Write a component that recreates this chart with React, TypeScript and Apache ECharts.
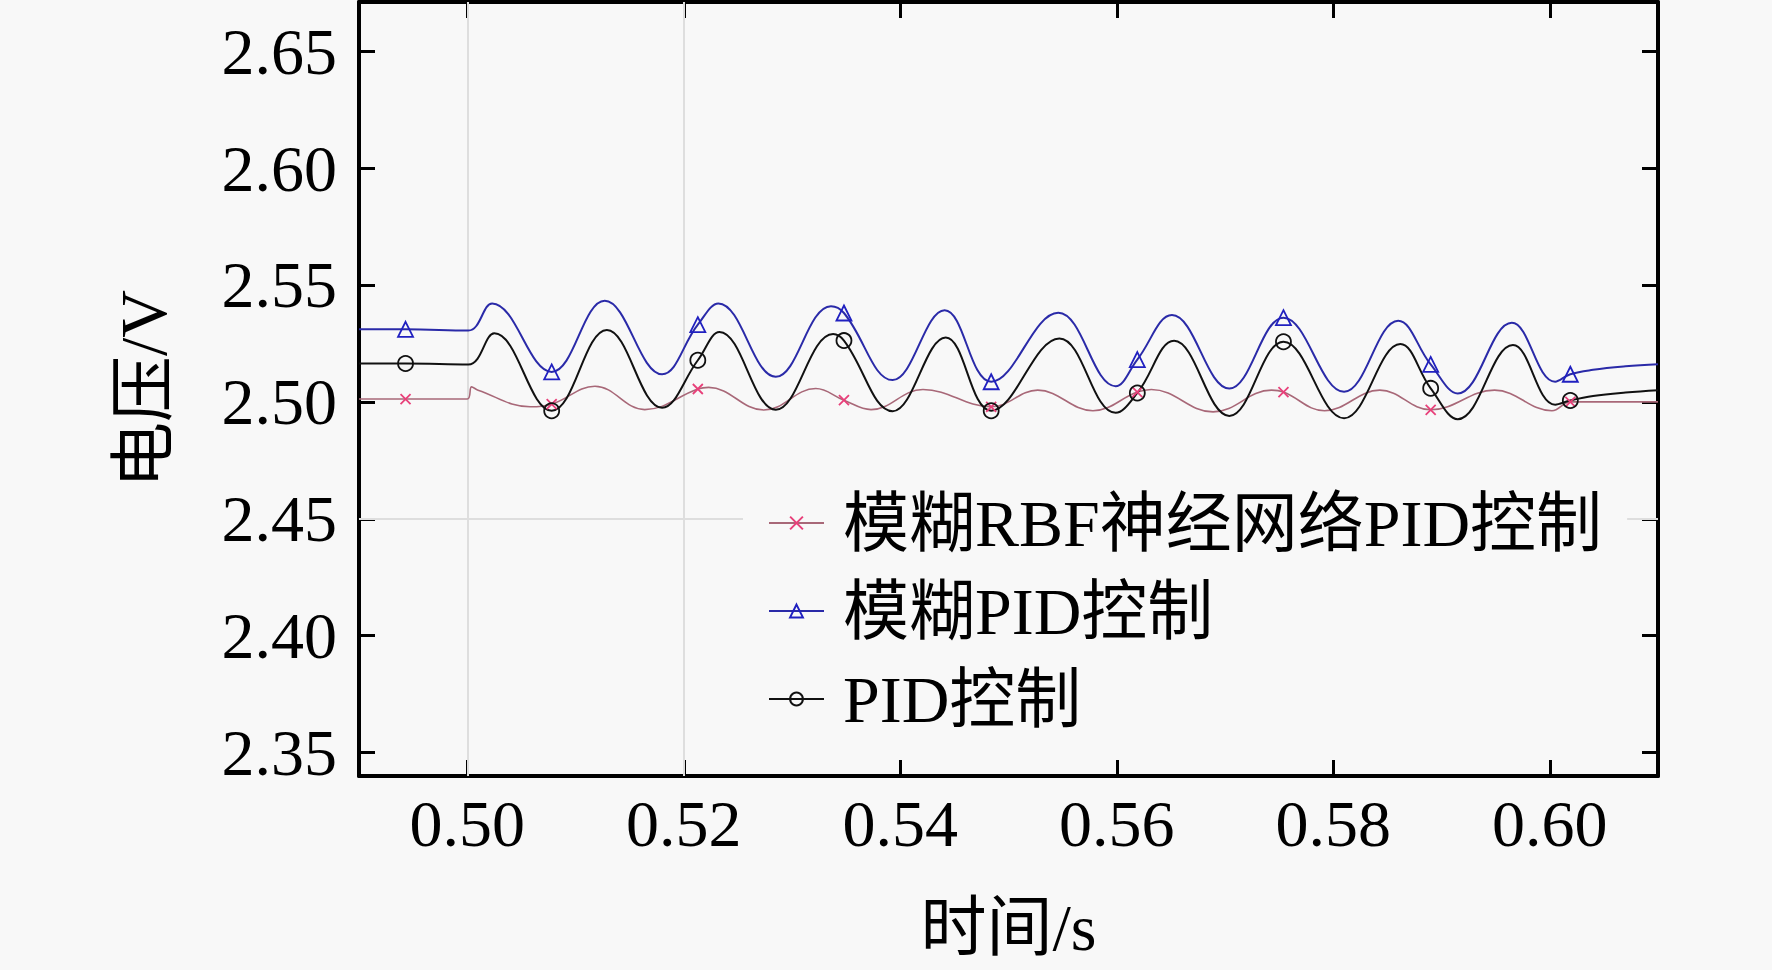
import React, { useEffect, useRef } from "react";
import * as echarts from "echarts";

const seriesNames = ["模糊RBF神经网络PID控制", "模糊PID控制", "PID控制"];
const xAxisName = "时间/s";
const yAxisName = "电压/V";

// time positions where markers are drawn (shared by all series)
const markerTimes = [0.4943, 0.5078, 0.5213, 0.5348, 0.5484, 0.5619, 0.5754, 0.589, 0.6019];

// 模糊RBF神经网络PID控制
const rbfTimes = [
  0.49, 0.4943, 0.5, 0.5004, 0.501, 0.5058, 0.5078, 0.5118, 0.5164, 0.5213, 0.5223, 0.5274,
  0.5322, 0.5348, 0.5373, 0.5421, 0.5484, 0.5527, 0.5578, 0.5619, 0.5632, 0.5689, 0.5743,
  0.5754, 0.5792, 0.5843, 0.589, 0.5949, 0.6002, 0.6019, 0.605, 0.61,
];
const rbfValues = [
  2.5012, 2.5012, 2.5012, 2.5064, 2.505, 2.4979, 2.499, 2.5067, 2.4967, 2.5055, 2.5062, 2.4965,
  2.5057, 2.5007, 2.4967, 2.5053, 2.4979, 2.505, 2.4962, 2.5042, 2.5053, 2.4957, 2.505,
  2.5042, 2.4962, 2.505, 2.4966, 2.505, 2.4962, 2.5, 2.5, 2.5,
];

// 模糊PID控制
const fuzzyTimes = [
  0.49, 0.4943, 0.5001, 0.5023, 0.5078, 0.5127, 0.518, 0.5213, 0.5232, 0.5285, 0.5336, 0.5348,
  0.5393, 0.5441, 0.5484, 0.5546, 0.5599, 0.5619, 0.5651, 0.5704, 0.5754, 0.581, 0.586, 0.589,
  0.5915, 0.5965, 0.6005, 0.6019, 0.604, 0.607, 0.61,
];
const fuzzyValues = [
  2.531, 2.531, 2.5305, 2.5421, 2.5128, 2.5432, 2.5118, 2.533, 2.5421, 2.5107, 2.5409, 2.538,
  2.5093, 2.5392, 2.5086, 2.5381, 2.5067, 2.5181, 2.5371, 2.5057, 2.536, 2.5043, 2.5347, 2.516,
  2.5036, 2.5338, 2.5086, 2.5118, 2.5137, 2.5152, 2.5161,
];

// PID控制
const pidTimes = [
  0.49, 0.4943, 0.5001, 0.5025, 0.5078, 0.5129, 0.518, 0.5213, 0.5233, 0.5285, 0.5338, 0.5348,
  0.5393, 0.5442, 0.5484, 0.5547, 0.5599, 0.5619, 0.5653, 0.5704, 0.5754, 0.581, 0.5862, 0.589,
  0.5915, 0.5966, 0.6005, 0.6019, 0.604, 0.607, 0.61,
];
const pidValues = [
  2.5164, 2.5164, 2.516, 2.5293, 2.4962, 2.5307, 2.4975, 2.5178, 2.5299, 2.4966, 2.529, 2.5262,
  2.496, 2.5275, 2.4962, 2.5271, 2.4953, 2.5038, 2.5261, 2.494, 2.5257, 2.493, 2.5247, 2.5058,
  2.4926, 2.5243, 2.4988, 2.5006, 2.5025, 2.504, 2.505,
];

const xMin = 0.49;
const xMax = 0.61;
const yMin = 2.34;
const yMax = 2.671;
const gridXLines = [0.5, 0.52];
const gridYLines = [2.45];

const FONT = "'Liberation Serif', 'Noto Sans CJK SC', serif";
const BG = "#f8f8f8";

function build(times: number[], values: number[]) {
  return times.map((t, i) =>
    markerTimes.includes(t) ? { value: [t, values[i]] } : { value: [t, values[i]], symbol: "none" }
  );
}

export default function App() {
  const ref = useRef<HTMLDivElement>(null);
  useEffect(() => {
    document.body.style.margin = "0";
    document.body.style.background = BG;
    const chart = echarts.init(ref.current!, undefined, { renderer: "svg" });
    const axisLine = { show: true, lineStyle: { color: "#000", width: 4 } };
    const axisTick = { show: true, inside: true, length: 16, lineStyle: { color: "#000", width: 3 } };
    const fmt = (v: number) => v.toFixed(2);
    chart.setOption({
      animation: false,
      backgroundColor: BG,
      grid: { left: 359, right: 114, top: 2, bottom: 194, containLabel: false },
      legend: {
        orient: "vertical",
        left: 743,
        top: 480,
        z: 10,
        padding: [10, 25, 10, 25],
        backgroundColor: BG,
        itemWidth: 55,
        itemHeight: 16,
        itemGap: 22,
        data: seriesNames,
        textStyle: { fontSize: 66, lineHeight: 66, color: "#000", fontFamily: FONT, padding: [0, 0, 0, 14] },
      },
      xAxis: [
        {
          type: "value",
          min: xMin,
          max: xMax,
          splitNumber: 6,
          position: "bottom",
          name: xAxisName,
          nameLocation: "middle",
          nameGap: 118,
          nameTextStyle: { fontSize: 66, color: "#000", fontFamily: FONT },
          axisLine,
          axisTick,
          splitLine: { show: false },
          axisLabel: {
            fontSize: 66,
            color: "#000",
            fontFamily: FONT,
            margin: 14,
            formatter: fmt,
            showMinLabel: false,
            showMaxLabel: false,
          },
        },
        {
          type: "value",
          min: xMin,
          max: xMax,
          splitNumber: 6,
          position: "top",
          axisLine,
          axisTick,
          splitLine: { show: false },
          axisLabel: { show: false },
        },
      ],
      yAxis: [
        {
          type: "value",
          min: yMin,
          max: yMax,
          splitNumber: 7,
          position: "left",
          name: yAxisName,
          nameLocation: "middle",
          nameGap: 183,
          nameTextStyle: { fontSize: 66, color: "#000", fontFamily: FONT },
          axisLine,
          axisTick,
          splitLine: { show: false },
          axisLabel: {
            fontSize: 66,
            color: "#000",
            fontFamily: FONT,
            margin: 22,
            formatter: fmt,
            showMinLabel: false,
            showMaxLabel: false,
          },
        },
        {
          type: "value",
          min: yMin,
          max: yMax,
          splitNumber: 7,
          position: "right",
          axisLine,
          axisTick,
          splitLine: { show: false },
          axisLabel: { show: false },
        },
      ],
      series: [
        {
          name: "grid",
          type: "line",
          data: [],
          z: 1,
          silent: true,
          markLine: {
            silent: true,
            z: 1,
            symbol: ["none", "none"],
            label: { show: false },
            lineStyle: { color: "#dedede", width: 2, type: "solid" },
            data: [
              ...gridXLines.map((x) => ({ xAxis: x })),
              ...gridYLines.map((y) => ({ yAxis: y })),
            ],
          },
        },
        {
          name: seriesNames[0],
          type: "line",
          smooth: 0.4,
          z: 3,
          symbol: "path://M0,0L10,10M10,0L0,10",
          symbolSize: 10,
          lineStyle: { color: "#a86878", width: 1.6 },
          itemStyle: { color: "rgba(0,0,0,0)", borderColor: "#e8407a", borderWidth: 1.8 },
          data: build(rbfTimes, rbfValues),
        },
        {
          name: seriesNames[1],
          type: "line",
          smooth: 0.4,
          z: 3,
          symbol: "triangle",
          symbolSize: 15,
          lineStyle: { color: "#2a2aa8", width: 2 },
          itemStyle: { color: "rgba(0,0,0,0)", borderColor: "#2020c0", borderWidth: 1.8 },
          data: build(fuzzyTimes, fuzzyValues),
        },
        {
          name: seriesNames[2],
          type: "line",
          smooth: 0.4,
          z: 3,
          symbol: "circle",
          symbolSize: 15,
          lineStyle: { color: "#111", width: 2 },
          itemStyle: { color: "rgba(0,0,0,0)", borderColor: "#111", borderWidth: 1.8 },
          data: build(pidTimes, pidValues),
        },
      ],
    });
    return () => chart.dispose();
  }, []);
  return <div ref={ref} style={{ width: 1772, height: 970 }} />;
}
